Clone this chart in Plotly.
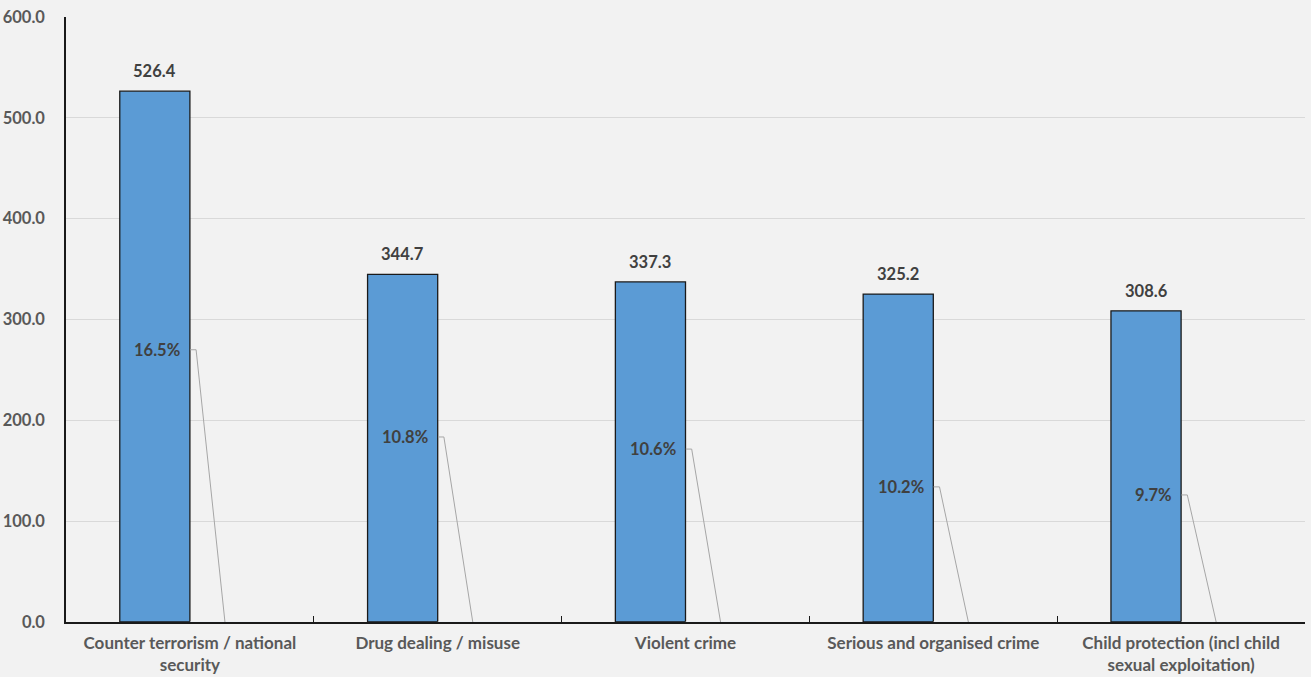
import plotly.graph_objects as go

categories = [
    "Counter terrorism / national<br>security",
    "Drug dealing / misuse",
    "Violent crime",
    "Serious and organised crime",
    "Child protection (incl child<br>sexual exploitation)",
]
values = [526.4, 344.7, 337.3, 325.2, 308.6]
percentages = [16.5, 10.8, 10.6, 10.2, 9.7]
pct_label_y = [270, 183.5, 171.5, 134, 126]

FONT = "Lato"
TXT = "#404040"
AX = "#595959"

fig = go.Figure()
fig.add_trace(go.Bar(
    x=categories, y=values,
    marker=dict(color="#5B9BD5", line=dict(color="#1a1a1a", width=1.3)),
    hoverinfo="skip",
))
fig.add_trace(go.Bar(
    x=categories, y=[0] * len(categories),
    marker=dict(color="rgba(0,0,0,0)"), hoverinfo="skip",
))

for i, v in enumerate(values):
    fig.add_annotation(
        x=i - 0.1415, y=v, xref="x", yref="y", text=f"<b>{v:.1f}</b>",
        showarrow=False, xanchor="center", yanchor="middle", yshift=20,
        font=dict(family=FONT, size=16.5, color=TXT),
    )

for i, (p, ly) in enumerate(zip(percentages, pct_label_y)):
    fig.add_annotation(
        x=i - 0.03, y=ly, xref="x", yref="y", text=f"<b>{p:.1f}%</b>",
        showarrow=False, xanchor="right", yanchor="middle",
        font=dict(family=FONT, size=16.5, color=TXT),
    )
    fig.add_shape(
        type="path", xref="x", yref="y",
        path=f"M {i + 0.001},{ly} L {i + 0.025},{ly} L {i + 0.1415},0",
        line=dict(color="#a6a6a6", width=1),
    )

fig.update_layout(
    width=1311, height=677,
    margin=dict(l=66, r=6, t=17, b=55),
    paper_bgcolor="#f2f2f2", plot_bgcolor="#f2f2f2",
    barmode="group", bargap=0.434, bargroupgap=0,
    showlegend=False,
    font=dict(family=FONT, size=17, color=AX),
    xaxis=dict(
        type="category", tickson="boundaries", ticks="inside", ticklen=6,
        tickcolor="#1a1a1a", showline=True, linecolor="#1a1a1a", linewidth=1.5,
        tickfont=dict(family=FONT, size=17, color=AX),
        showgrid=False, ticklabelstandoff=5, automargin=False,
        tickprefix="<b>", ticksuffix="</b>",
    ),
    yaxis=dict(
        range=[0, 600], dtick=100, tickformat=".1f", showline=True,
        linecolor="#1a1a1a", linewidth=1.5, gridcolor="#d9d9d9", gridwidth=1,
        zeroline=False, ticks="", ticklabelstandoff=16, automargin=False,
        tickfont=dict(family=FONT, size=16.5, color=AX),
        tickprefix="<b>", ticksuffix="</b>",
    ),
)

fig.write_html("out.html", config={"displayModeBar": False})

with open("out.html", "r", encoding="utf-8") as f:
    html = f.read()
html = html.replace("<body>", '<body style="margin:0;padding:0;background:#f2f2f2;">', 1)
html = html.replace("<head>", '<head><style>html,body{margin:0;padding:0;overflow:hidden;}</style>', 1)
with open("out.html", "w", encoding="utf-8") as f:
    f.write(html)
